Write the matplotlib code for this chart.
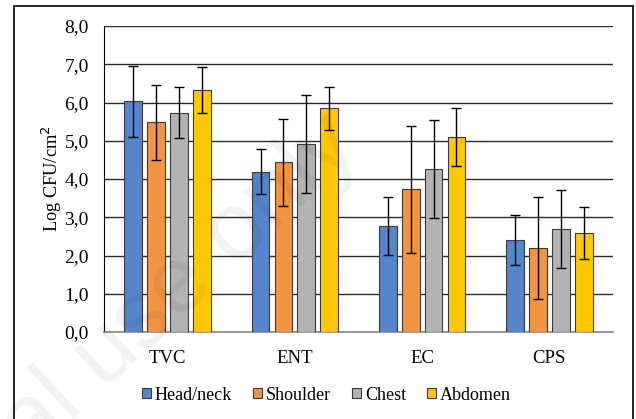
import matplotlib
matplotlib.use("Agg")
import matplotlib.pyplot as plt
import matplotlib.patches as patches
import numpy as np

# categories and groups
categories = ["TVC", "ENT", "EC", "CPS"]
groups = ["Head/neck", "Shoulder", "Chest", "Abdomen"]

# mean log CFU/cm2 per category
head_neck = [6.03, 4.19, 2.78, 2.41]
shoulder = [5.48, 4.44, 3.73, 2.20]
chest = [5.73, 4.91, 4.26, 2.70]
abdomen = [6.33, 5.85, 5.10, 2.58]

# standard deviations
head_neck_sd = [0.92, 0.59, 0.76, 0.65]
shoulder_sd = [0.98, 1.14, 1.66, 1.33]
chest_sd = [0.67, 1.28, 1.27, 1.02]
abdomen_sd = [0.61, 0.56, 0.76, 0.68]

y_ticks = [0, 1, 2, 3, 4, 5, 6, 7, 8]
y_tick_labels = ["0,0", "1,0", "2,0", "3,0", "4,0", "5,0", "6,0", "7,0", "8,0"]

colors = ["#5586CB", "#F39442", "#B3B3B3", "#FFC800"]

plt.rcParams['font.family'] = ['Liberation Serif', 'DejaVu Serif']

fig = plt.figure(figsize=(6.36, 4.19), dpi=100)
ax = fig.add_axes([104 / 636, 1 - 332 / 419, 509 / 636, 306 / 419])

x = np.arange(len(categories))
pitch = 0.18
width = 0.14
series = [head_neck, shoulder, chest, abdomen]
errors = [head_neck_sd, shoulder_sd, chest_sd, abdomen_sd]

for i, (vals, errs) in enumerate(zip(series, errors)):
    offs = (i - 1.5) * pitch
    ax.bar(x + offs, vals, width, color=colors[i], edgecolor="#3a3a3a",
           linewidth=0.8, label=groups[i], zorder=3)
    ax.errorbar(x + offs, vals, yerr=errs, fmt="none", ecolor="black",
                elinewidth=1.0, capsize=3.3, capthick=1.0, zorder=4)

ax.set_ylim(0, 8)
ax.set_xlim(-0.5, 3.5)
ax.set_yticks(y_ticks)
ax.set_yticklabels(y_tick_labels, fontsize=14)
ax.set_xticks(x)
ax.set_xticklabels(categories, fontsize=13.5)
ax.tick_params(axis="both", length=0)
ax.tick_params(axis="x", pad=13)
ax.tick_params(axis="y", pad=11)
ax.yaxis.grid(True, color="#2a2a2a", linewidth=1.0, zorder=0)
ax.set_axisbelow(True)

for s in ["top", "right"]:
    ax.spines[s].set_visible(False)
ax.spines["left"].set_color("black")
ax.spines["bottom"].set_color("#888888")
ax.spines["bottom"].set_linewidth(1.2)

ax.set_ylabel("Log CFU/cm$^2$", fontsize=13.2, labelpad=0)

leg = fig.legend(loc="center", bbox_to_anchor=(326.5 / 636, 1 - 395 / 419), ncol=4,
                 frameon=False, fontsize=13, handlelength=0.5, handleheight=0.5,
                 handletextpad=0.22, columnspacing=1.16)

# faint watermark
fig.text(180 / 636, 1 - 286 / 419, "al use only", fontsize=68, family="Liberation Sans",
         color="black", alpha=0.055, rotation=43, ha="center", va="center",
         rotation_mode="anchor", zorder=10)

# outer frame
fig.patches.append(patches.Rectangle((14 / 636, -0.05), 619 / 636, 1.05 - 6 / 419,
                                     transform=fig.transFigure, fill=False,
                                     edgecolor="black", linewidth=1.2))

fig.savefig("out.png", dpi=100)
